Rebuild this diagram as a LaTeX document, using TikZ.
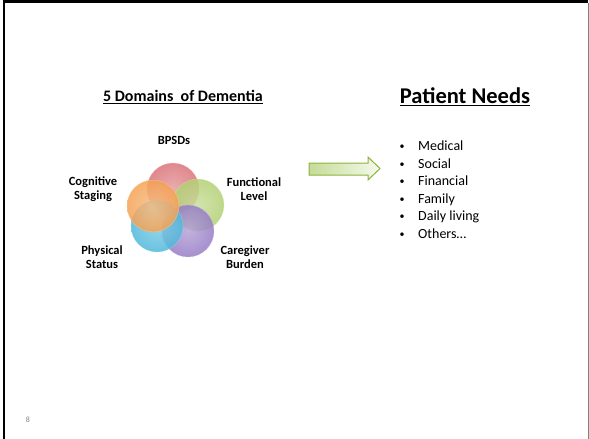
\documentclass[tikz,border=0pt]{standalone}
\usepackage{fontspec}
\setmainfont{Carlito}
\usepackage{tikz}
\usetikzlibrary{positioning,calc}
\definecolor{dred}{RGB}{218,116,120}
\definecolor{dgreen}{RGB}{178,208,116}
\definecolor{dpurple}{RGB}{150,124,198}
\definecolor{dblue}{RGB}{78,184,218}
\definecolor{dorange}{RGB}{244,162,84}
\definecolor{arrowline}{RGB}{140,180,60}
\newcommand{\needfont}{\fontsize{14}{17.5}\selectfont}

\begin{document}
\begin{tikzpicture}[
  x=1pt, y=-1pt,
  domain/.style={circle, minimum size=52pt, inner sep=0pt,
               shading=radial, inner color=#1!70!white, outer color=#1,
               fill opacity=0.85, draw=#1!50!white, draw opacity=0.6},
  label/.style={align=center, font=\fontsize{12.5}{14}\selectfont\bfseries,
               inner sep=0pt},
  heading/.style={inner sep=0pt, font=\bfseries}
]
  \useasboundingbox (0,0) rectangle (589,439);

  % slide frame
  \draw[line width=2.5pt] (4,439) -- (4,1.5) -- (588,1.5);
  \draw[gray, line width=1pt] (588,2.5) -- (588,439);

  \node[heading] (domains) at (183,97)
    {\fontsize{16}{19}\selectfont\underline{5 Domains\ \ of Dementia}};
  \node[heading] (needs) at (465,97)
    {\fontsize{22.5}{27}\selectfont\underline{Patient Needs}};

  % the five overlapping domains
  \node[domain=dred]    (bpsd)  at (173,189) {};
  \node[domain=dgreen]  (func)  at (198,205) {};
  \node[domain=dpurple] (care)  at (188,231) {};
  \node[domain=dblue]   (phys)  at (157,226) {};
  \node[domain=dorange] (cogn)  at (153,206) {};

  \node[label] (lbpsd) at (174,140) {BPSDs};
  \node[label] (lcogn) at (93,189)  {Cognitive\\Staging};
  \node[label] (lfunc) at (254,189) {Functional\\Level};
  \node[label] (lphys) at (102,257) {Physical\\Status};
  \node[label] (lcare) at (245,257) {Caregiver\\Burden};

  % block arrow
  \shade[left color=dgreen!75!white, right color=dgreen!12!white,
         draw=arrowline, line width=1pt, line join=miter]
    (309,163) -- (368,163) -- (368,157) -- (380,168.5)
    -- (368,180) -- (368,175) -- (309,175) -- cycle;

  \foreach \need [count=\i] in {Medical, Social, Financial, Family,
                                Daily living, Others\dots} {
    \node[anchor=base, inner sep=0pt, font=\fontsize{10}{12}\selectfont]
      (dot\i) at (402,{149.5+17.5*(\i-1)}) {\textbullet};
    \node[anchor=base west, inner sep=0pt, font=\needfont] (need\i)
      at (418,{150.5+17.5*(\i-1)}) {\need};
  }

  \node[gray, font=\fontsize{8}{9}\selectfont] (page) at (28,420) {8};
\end{tikzpicture}
\end{document}
